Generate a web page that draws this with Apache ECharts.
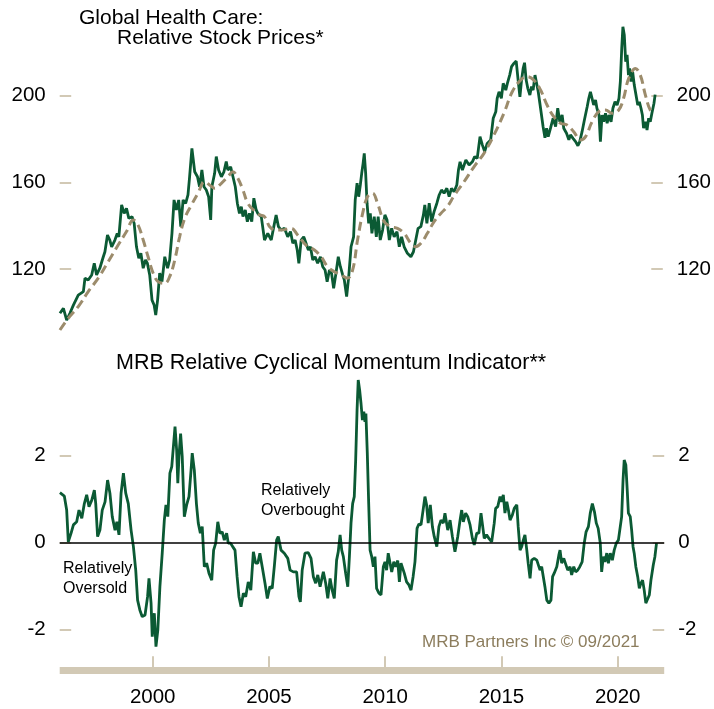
<!DOCTYPE html>
<html>
<head>
<meta charset="utf-8">
<script src="https://cdn.jsdelivr.net/npm/echarts@6/dist/echarts.min.js"></script>
<style>
html,body{margin:0;padding:0;background:#fff;}
#chart{width:714px;height:709px;}
</style>
</head>
<body>
<div id="chart"></div>
<script>
// ---- Data ----
var priceYears = [1996.01,1996.16,1996.30,1996.44,1996.59,1996.80,1997.02,1997.09,1997.23,1997.38,1997.49,1997.59,1997.73,1997.88,1997.95,1998.06,1998.16,1998.24,1998.38,1998.48,1998.55,1998.67,1998.78,1998.88,1998.98,1999.12,1999.21,1999.31,1999.41,1999.50,1999.60,1999.70,1999.78,1999.88,1999.98,2000.07,2000.14,2000.22,2000.31,2000.41,2000.53,2000.65,2000.74,2000.84,2000.93,2001.03,2001.13,2001.22,2001.32,2001.43,2001.53,2001.60,2001.70,2001.82,2001.94,2002.03,2002.13,2002.22,2002.32,2002.42,2002.51,2002.56,2002.68,2002.75,2002.85,2002.97,2003.08,2003.18,2003.25,2003.37,2003.47,2003.57,2003.66,2003.75,2003.83,2003.90,2004.00,2004.09,2004.18,2004.28,2004.37,2004.47,2004.54,2004.69,2004.83,2004.97,2005.12,2005.23,2005.33,2005.43,2005.55,2005.69,2005.83,2005.95,2006.05,2006.15,2006.24,2006.31,2006.41,2006.52,2006.62,2006.72,2006.81,2006.91,2007.01,2007.12,2007.24,2007.34,2007.44,2007.53,2007.63,2007.72,2007.81,2007.91,2008.01,2008.10,2008.20,2008.27,2008.37,2008.46,2008.56,2008.67,2008.74,2008.82,2008.89,2008.96,2009.02,2009.08,2009.13,2009.19,2009.25,2009.32,2009.39,2009.46,2009.56,2009.65,2009.73,2009.82,2009.92,2010.02,2010.11,2010.21,2010.31,2010.42,2010.54,2010.64,2010.74,2010.85,2010.99,2011.14,2011.25,2011.35,2011.45,2011.57,2011.68,2011.74,2011.83,2011.93,2012.03,2012.14,2012.26,2012.36,2012.46,2012.57,2012.69,2012.79,2012.89,2013.00,2013.12,2013.19,2013.26,2013.36,2013.51,2013.65,2013.79,2013.89,2014.00,2014.12,2014.22,2014.32,2014.43,2014.58,2014.69,2014.80,2014.86,2014.94,2015.04,2015.12,2015.23,2015.30,2015.40,2015.48,2015.58,2015.68,2015.77,2015.84,2015.91,2015.98,2016.04,2016.11,2016.18,2016.27,2016.34,2016.41,2016.49,2016.56,2016.63,2016.70,2016.77,2016.84,2016.92,2016.99,2017.06,2017.16,2017.27,2017.38,2017.47,2017.56,2017.66,2017.73,2017.85,2017.95,2018.02,2018.13,2018.24,2018.34,2018.42,2018.52,2018.62,2018.74,2018.81,2018.88,2018.95,2019.02,2019.10,2019.16,2019.25,2019.31,2019.38,2019.45,2019.53,2019.60,2019.68,2019.77,2019.85,2019.94,2020.03,2020.11,2020.17,2020.23,2020.28,2020.34,2020.40,2020.46,2020.52,2020.57,2020.63,2020.70,2020.77,2020.84,2020.92,2020.99,2021.06,2021.12,2021.17,2021.25,2021.32,2021.39,2021.46,2021.53,2021.62,2021.67];
var priceValues = [99.6,101.9,96.5,99.6,103.4,108.0,109.6,115.8,115.0,117.3,122.7,117.3,120.4,125.7,128.0,135.7,133.4,130.3,133.4,136.5,134.9,149.6,145.7,148.0,143.4,144.2,141.1,130.3,125.0,127.3,120.4,124.2,122.7,117.3,105.7,103.4,98.8,105.7,118.1,114.2,125.7,120.4,124.2,136.5,151.9,147.3,151.9,139.6,151.9,150.3,154.2,162.6,175.7,164.9,162.6,158.0,165.7,158.0,156.5,153.4,142.7,158.0,164.2,171.9,165.7,162.6,164.9,169.6,165.7,167.2,162.6,158.0,150.3,145.7,148.8,144.2,147.3,141.9,145.7,141.9,152.7,147.3,145.7,144.2,133.4,136.5,133.4,139.6,145.0,139.6,138.0,138.8,134.9,137.3,131.9,133.4,128.8,122.7,133.4,134.9,131.9,128.8,130.3,124.2,125.7,122.7,125.7,121.1,119.6,114.2,119.6,118.1,111.1,118.1,125.7,121.1,117.3,115.0,107.3,116.5,130.3,134.9,151.9,159.6,153.4,158.8,164.2,168.8,173.4,164.2,150.4,141.1,145.7,136.5,144.2,134.9,144.2,133.4,138.0,145.0,142.7,133.4,138.8,134.9,137.3,130.3,134.9,130.3,127.3,125.7,128.0,133.4,138.8,139.6,145.0,149.6,141.1,150.4,141.9,146.5,150.4,154.2,156.5,155.0,157.3,153.4,157.3,155.7,158.8,165.7,169.5,165.7,170.3,168.0,169.5,171.9,171.1,181.1,177.3,174.2,178.0,179.6,189.6,192.6,198.8,201.8,198.8,205.7,202.6,205.7,209.5,213.4,214.9,216.0,206.5,199.5,207.2,212.6,215.2,207.2,203.4,200.3,204.2,202.6,209.5,205.7,201.8,196.5,191.1,185.7,180.6,185.0,181.1,185.0,189.6,185.7,194.2,188.0,191.1,185.0,182.7,179.6,181.9,180.3,178.8,176.9,178.8,183.4,188.8,194.9,198.8,201.8,198.8,195.7,198.0,194.2,191.1,178.8,191.1,188.0,191.9,187.3,191.1,188.0,194.2,197.2,195.7,198.8,206.5,221.9,231.8,228.0,215.7,218.8,209.5,212.6,206.5,211.1,204.9,205.7,195.7,197.2,194.2,191.1,185.0,188.0,184.2,189.6,188.0,191.9,196.5,200.5];

var maYears = [1996.01,1996.37,1996.80,1997.23,1997.66,1998.09,1998.52,1998.88,1999.17,1999.38,1999.60,1999.81,2000.03,2000.24,2000.53,2000.74,2000.96,2001.17,2001.39,2001.68,2001.96,2002.25,2002.46,2002.68,2002.97,2003.25,2003.47,2003.68,2003.90,2004.11,2004.40,2004.62,2004.83,2005.12,2005.55,2005.98,2006.26,2006.62,2006.98,2007.27,2007.55,2007.84,2008.13,2008.41,2008.63,2008.84,2009.06,2009.27,2009.49,2009.70,2009.99,2010.28,2010.56,2010.85,2011.14,2011.35,2011.57,2011.85,2012.14,2012.43,2012.71,2013.00,2013.43,2013.86,2014.29,2014.72,2015.15,2015.51,2015.87,2016.15,2016.44,2016.73,2017.01,2017.30,2017.59,2017.87,2018.16,2018.45,2018.67,2018.95,2019.24,2019.53,2019.81,2020.10,2020.31,2020.53,2020.82,2021.03,2021.25,2021.46,2021.64];
var maValues = [91.9,97.3,102.7,109.6,115.8,123.4,131.1,137.3,142.7,140.3,133.4,125.7,118.1,114.2,113.4,116.5,124.2,134.9,143.4,149.6,155.0,160.3,158.8,157.3,159.6,162.6,164.9,161.9,156.5,150.4,146.8,145.0,144.2,138.8,138.0,138.8,135.7,131.1,128.8,125.7,121.1,118.8,117.3,115.8,119.6,133.4,145.7,153.4,155.0,150.4,141.9,139.6,138.8,136.5,131.9,130.3,131.9,136.5,141.9,145.7,148.8,153.8,160.3,167.2,173.4,181.9,191.9,201.8,207.2,208.8,207.2,202.6,195.7,190.3,187.3,186.5,183.4,179.6,181.1,188.0,192.6,193.4,191.9,193.4,198.8,208.0,212.6,209.5,200.3,193.4,191.9];

var momYears = [1996.01,1996.20,1996.30,1996.37,1996.49,1996.59,1996.73,1996.83,1996.95,1997.06,1997.16,1997.26,1997.38,1997.49,1997.55,1997.63,1997.73,1997.83,1997.95,1998.06,1998.16,1998.26,1998.38,1998.46,1998.55,1998.64,1998.74,1998.84,1998.95,1999.07,1999.17,1999.27,1999.35,1999.45,1999.55,1999.67,1999.78,1999.84,1999.93,1999.98,2000.07,2000.14,2000.22,2000.31,2000.41,2000.50,2000.57,2000.65,2000.74,2000.82,2000.89,2000.96,2001.03,2001.08,2001.13,2001.20,2001.27,2001.36,2001.46,2001.56,2001.65,2001.70,2001.79,2001.88,2001.96,2002.05,2002.13,2002.22,2002.32,2002.42,2002.54,2002.62,2002.71,2002.80,2002.89,2002.99,2003.08,2003.18,2003.25,2003.35,2003.44,2003.54,2003.63,2003.71,2003.80,2003.90,2004.00,2004.11,2004.22,2004.33,2004.43,2004.52,2004.61,2004.71,2004.83,2004.93,2005.04,2005.14,2005.23,2005.33,2005.40,2005.52,2005.66,2005.81,2005.91,2006.05,2006.19,2006.29,2006.35,2006.43,2006.55,2006.69,2006.81,2006.91,2007.01,2007.10,2007.20,2007.34,2007.44,2007.53,2007.63,2007.72,2007.81,2007.91,2007.98,2008.06,2008.13,2008.20,2008.30,2008.39,2008.46,2008.53,2008.60,2008.67,2008.73,2008.79,2008.84,2008.90,2008.96,2009.02,2009.08,2009.13,2009.17,2009.23,2009.29,2009.35,2009.42,2009.49,2009.56,2009.63,2009.73,2009.82,2009.92,2009.99,2010.06,2010.13,2010.21,2010.28,2010.37,2010.45,2010.54,2010.61,2010.68,2010.75,2010.82,2010.92,2011.02,2011.11,2011.20,2011.28,2011.37,2011.45,2011.54,2011.63,2011.71,2011.78,2011.85,2011.94,2012.03,2012.11,2012.22,2012.31,2012.40,2012.50,2012.57,2012.69,2012.79,2012.89,2013.00,2013.12,2013.22,2013.29,2013.36,2013.46,2013.55,2013.65,2013.75,2013.83,2013.94,2014.03,2014.12,2014.18,2014.26,2014.36,2014.46,2014.58,2014.69,2014.75,2014.84,2014.94,2015.01,2015.08,2015.15,2015.23,2015.30,2015.37,2015.47,2015.55,2015.66,2015.72,2015.80,2015.87,2015.94,2016.01,2016.09,2016.15,2016.23,2016.30,2016.41,2016.52,2016.58,2016.66,2016.73,2016.80,2016.87,2016.95,2017.04,2017.13,2017.20,2017.27,2017.38,2017.47,2017.52,2017.59,2017.68,2017.76,2017.85,2017.95,2018.02,2018.11,2018.19,2018.28,2018.37,2018.47,2018.56,2018.64,2018.74,2018.82,2018.91,2019.00,2019.08,2019.16,2019.25,2019.31,2019.38,2019.45,2019.53,2019.60,2019.68,2019.77,2019.85,2019.94,2020.03,2020.11,2020.17,2020.23,2020.28,2020.35,2020.41,2020.46,2020.54,2020.60,2020.66,2020.71,2020.78,2020.86,2020.93,2021.00,2021.07,2021.14,2021.21,2021.29,2021.36,2021.43,2021.53,2021.60,2021.67];
var momValues = [1.15,1.07,0.75,0.02,0.22,0.41,0.48,0.75,0.56,0.90,1.10,0.83,0.98,1.21,0.90,0.14,0.29,0.75,0.94,1.44,1.14,0.60,0.29,0.48,0.18,1.14,1.60,1.14,0.90,0.29,-0.09,-0.63,-1.32,-1.55,-1.70,-1.66,-1.24,-0.82,-1.39,-2.16,-1.62,-2.39,-2.01,-1.01,-0.24,0.52,0.87,0.60,1.60,1.75,2.21,2.67,2.13,1.37,1.98,2.51,1.98,0.60,0.87,1.06,1.67,2.06,1.67,0.90,0.45,0.22,0.37,-0.55,-0.47,-0.70,-0.86,-0.17,-0.01,0.48,0.22,0.25,0.06,0.22,-0.01,-0.01,-0.09,-0.17,-0.78,-1.24,-1.47,-1.16,-1.24,-0.90,-1.09,-0.21,-0.47,-0.47,-0.24,-0.55,-0.93,-1.28,-1.01,-1.05,-0.55,0.06,0.14,-0.17,-0.24,-0.36,-0.63,-0.67,-0.67,-1.24,-1.36,-0.63,-0.24,-0.23,-0.36,-0.78,-0.93,-0.74,-1.01,-0.67,-0.93,-1.28,-0.82,-1.09,-1.28,-0.40,-0.21,0.18,-0.17,-0.32,-0.70,-1.01,-0.32,0.45,0.90,1.06,1.90,3.05,3.74,3.51,3.20,2.82,3.01,2.78,2.97,2.06,0.90,-0.17,-0.32,-0.55,-0.32,-1.05,-1.16,-1.20,-0.55,-0.44,-0.63,-0.24,-0.47,-0.67,-0.44,-0.55,-0.41,-0.90,-0.47,-0.44,-0.70,-0.90,-0.97,-1.09,-0.78,-0.44,0.33,0.43,0.41,0.75,1.06,0.87,0.45,0.87,0.37,0.14,-0.09,0.37,0.52,0.45,0.68,0.29,0.52,0.14,-0.21,0.14,0.52,0.75,0.48,0.68,0.60,0.41,0.10,-0.05,0.22,0.22,0.68,0.71,0.10,0.18,0.10,0.02,0.45,0.79,0.83,1.06,0.94,1.10,0.68,0.94,0.75,0.52,0.64,0.79,0.87,0.37,-0.17,-0.09,0.06,0.18,-0.17,-0.47,-0.82,-0.40,-0.36,-0.40,-0.36,-0.63,-0.55,-0.78,-1.01,-1.32,-1.39,-1.32,-0.78,-0.70,-0.55,-0.28,-0.17,-0.47,-0.36,-0.40,-0.63,-0.55,-0.74,-0.55,-0.67,-0.63,-0.55,-0.44,-0.01,0.25,0.37,0.68,0.90,0.71,0.45,0.33,-0.01,-0.67,-0.32,-0.44,-0.24,-0.47,-0.24,-0.40,-0.17,-0.01,0.06,0.02,0.60,1.44,1.90,1.79,1.21,0.68,0.60,0.29,-0.09,-0.24,-0.55,-0.78,-1.05,-0.93,-0.86,-1.09,-1.39,-1.39,-1.20,-0.86,-0.51,-0.32,-0.01];

var yearTicks = [2000, 2005, 2010, 2015, 2020];
var priceTicks = [120, 160, 200];
var momTicks = [-2, 0, 2];

// ---- Build ----
function pairs(xs, ys){ var out=[]; for(var i=0;i<xs.length;i++){ out.push([xs[i], ys[i]]); } return out; }

var FONT = 'Liberation Sans, Arial, Helvetica, sans-serif';
var GREEN = '#0b5a34';
var TAN = '#9c8c6c';
var TICK = '#d2c9b5';

function yAx(gridIndex, pos, min, max, ticks){
  return {
    type:'value', gridIndex:gridIndex, position:pos, min:min, max:max,
    axisLine:{show:false}, splitLine:{show:false},
    axisTick:{show:true, inside:true, length:11.5, customValues:ticks, lineStyle:{color:TICK, width:2}},
    axisLabel:{show:true, customValues:ticks, margin:14, fontSize:20.5, color:'#000', fontFamily:FONT,
      formatter:function(v){ return String(v); }}
  };
}

var chart = echarts.init(document.getElementById('chart'), null, {renderer:'canvas'});
chart.setOption({
  animation:false,
  backgroundColor:'#fff',
  grid:[
    {left:59.7, right:49.8, top:9.0, height:346.8},
    {left:59.7, right:49.8, top:368.7, height:301.5}
  ],
  xAxis:[
    {type:'value', gridIndex:0, min:1996, max:2022, show:false},
    {type:'value', gridIndex:1, min:1996, max:2022,
      axisLine:{show:true, onZero:false, lineStyle:{color:TICK, width:7, cap:'butt'}},
      axisTick:{show:true, inside:true, length:14, customValues:yearTicks, lineStyle:{color:TICK, width:2}},
      axisLabel:{show:true, customValues:yearTicks, margin:17, fontSize:20.5, color:'#000', fontFamily:FONT,
        formatter:function(v){ return String(v); }},
      splitLine:{show:false}}
  ],
  yAxis:[
    yAx(0,'left',80,240,priceTicks),
    yAx(0,'right',80,240,priceTicks),
    yAx(1,'left',-2.93,4,momTicks),
    yAx(1,'right',-2.93,4,momTicks)
  ],
  series:[
    {type:'line', xAxisIndex:0, yAxisIndex:0, data:pairs(priceYears, priceValues), showSymbol:false, symbol:'none',
      lineStyle:{color:GREEN, width:2.8}, z:2},
    {type:'line', xAxisIndex:0, yAxisIndex:0, data:pairs(maYears, maValues), showSymbol:false, symbol:'none', smooth:0.4,
      lineStyle:{color:TAN, width:3, type:[9,5]}, z:3},
    {type:'line', xAxisIndex:1, yAxisIndex:2, data:pairs(momYears, momValues), showSymbol:false, symbol:'none',
      lineStyle:{color:GREEN, width:2.8}, z:3,
      markLine:{silent:true, symbol:'none', label:{show:false}, lineStyle:{color:'#000', width:1.5, type:'solid'}, data:[{yAxis:0}]}}
  ],
  graphic:[
    {type:'text', left:79, top:8, style:{text:'Global Health Care:', font:'21px ' + FONT, fill:'#000'}},
    {type:'text', left:117, top:28, style:{text:'Relative Stock Prices*', font:'21px ' + FONT, fill:'#000'}},
    {type:'text', left:116, top:352, style:{text:'MRB Relative Cyclical Momentum Indicator**', font:'21.5px ' + FONT, fill:'#000'}},
    {type:'text', left:261, top:481, style:{text:'Relatively\nOverbought', font:'16px ' + FONT, fill:'#000', lineHeight:19.5}},
    {type:'text', left:63, top:558, style:{text:'Relatively\nOversold', font:'16px ' + FONT, fill:'#000', lineHeight:20.5}},
    {type:'text', left:422, top:634, style:{text:'MRB Partners Inc \u00A9 09/2021', font:'17px ' + FONT, fill:'#8c7d5d'}}
  ]
});
</script>
</body>
</html>
